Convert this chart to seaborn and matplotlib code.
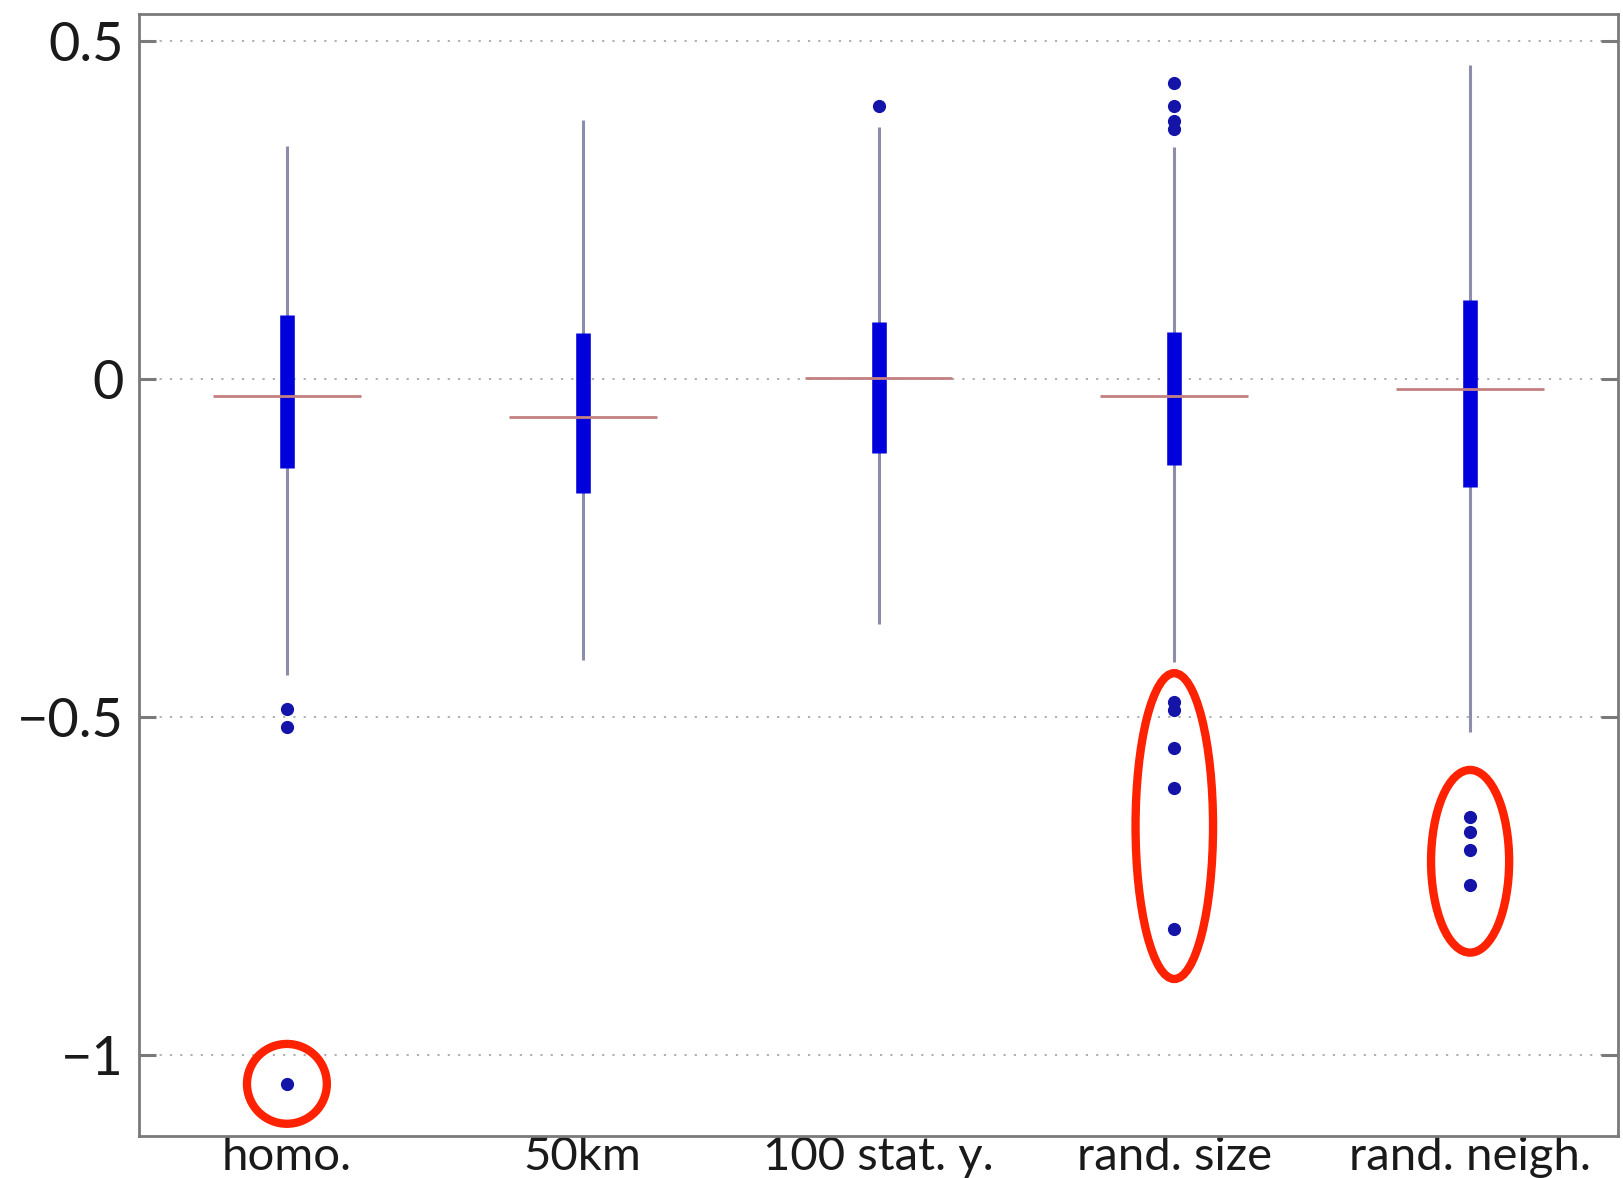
import numpy as np
import pandas as pd
import matplotlib
matplotlib.use("Agg")
import matplotlib.pyplot as plt
from matplotlib.patches import Ellipse
import seaborn as sns

# Categories and box statistics
categories = ["homo.", "50km", "100 stat. y.", "rand. size", "rand. neigh."]
whisker_low = [-0.438, -0.415, -0.363, -0.419, -0.522]
q1 = [-0.132, -0.169, -0.109, -0.127, -0.160]
median = [-0.025, -0.057, 0.002, -0.025, -0.015]
q3 = [0.094, 0.068, 0.084, 0.069, 0.117]
whisker_high = [0.344, 0.383, 0.373, 0.343, 0.464]

# Outliers per category
outliers_homo = [-0.488, -0.514, -1.042]
outliers_50km = []
outliers_100 = [0.404]
outliers_size = [0.437, 0.403, 0.381, 0.369, -0.477, -0.490, -0.545, -0.604, -0.813]
outliers_neigh = [-0.648, -0.670, -0.696, -0.748]

# Y axis ticks
ytick_values = [0.5, 0, -0.5, -1]
ytick_labels = ["0.5", "0", "\u22120.5", "\u22121"]

sns.set_style("white")
plt.rcParams["font.family"] = ["Lato", "DejaVu Sans"]

fig = plt.figure(figsize=(16.24, 11.78), dpi=100)
ax = fig.add_axes([0.0856, 0.0357, 0.9107, 0.9528])

# Outlier points via seaborn's categorical scatter
out_groups = [outliers_homo, outliers_50km, outliers_100, outliers_size, outliers_neigh]
out_df = pd.DataFrame({
    "category": [c for c, vals in zip(categories, out_groups) for _ in vals],
    "value": [v for vals in out_groups for v in vals],
})
sns.stripplot(data=out_df, x="category", y="value", order=categories,
              jitter=False, color="#1414a8", size=9.5, linewidth=0,
              zorder=5, ax=ax)

pos = np.arange(len(categories))

# Whiskers
ax.vlines(pos, whisker_low, whisker_high, color="#8c8cab", linewidth=2.2,
          zorder=2)
# Interquartile boxes drawn as thick bars
box_lines = ax.vlines(pos, q1, q3, color="#0000dc", linewidth=10.5, zorder=3)
box_lines.set_capstyle("butt")
# Median markers
ax.hlines(median, pos - 0.25, pos + 0.25, color="#c48080", linewidth=2.0,
          zorder=4)

# Highlight rings around selected outliers
rings = [
    (0, -1.042, 0.270, 0.118),
    (3, -0.661, 0.262, 0.452),
    (4, -0.713, 0.264, 0.270),
]
for idx, cy, w, h in rings:
    ax.add_patch(Ellipse((pos[idx], cy), w, h, fill=False,
                         edgecolor="#ff2200", linewidth=6.0, zorder=6))

ax.set_xlim(-0.5, 4.5)
ax.set_ylim(-1.119, 0.540)
ax.set_yticks(ytick_values)
ax.set_yticklabels(ytick_labels)
ax.set_xticks(pos)
ax.set_xticklabels(categories)
ax.set_xlabel("")
ax.set_ylabel("")

ax.yaxis.grid(True, color="#a8a8a8", linestyle=(0, (1.2, 4.5)), linewidth=1.3)
ax.xaxis.grid(False)
ax.set_axisbelow(True)

ax.tick_params(axis="y", direction="in", length=12, width=2.2,
               color="#7a7a7a", left=True, right=True, labelsize=39,
               pad=11, labelcolor="#1a1a1a")
ax.tick_params(axis="x", length=0, labelsize=34, pad=0, labelcolor="#1a1a1a")

for sp in ax.spines.values():
    sp.set_visible(True)
    sp.set_color("#7a7a7a")
    sp.set_linewidth(2.0)

fig.savefig("out.png", dpi=100)
